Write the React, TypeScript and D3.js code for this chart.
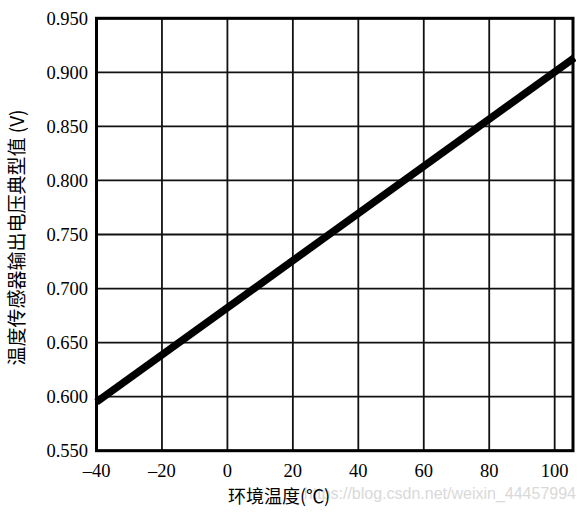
import React from "react";
import * as d3 from "d3";

const xTicks = [-40, -20, 0, 20, 40, 60, 80, 100];
const xTickLabels = ["–40", "–20", "0", "20", "40", "60", "80", "100"];
const yTicks = [0.55, 0.6, 0.65, 0.7, 0.75, 0.8, 0.85, 0.9, 0.95];
const yTickLabels = ["0.550", "0.600", "0.650", "0.700", "0.750", "0.800", "0.850", "0.900", "0.950"];
const lineTemps = [-40, 106];
const lineVolts = [0.595, 0.9135];
const xTitle = "环境温度(℃)";
const yTitle = "温度传感器输出电压典型值 (V)";
const watermark = "https://blog.csdn.net/weixin_44457994";

const W = 580;
const H = 513;
const L = 96.5, R = 573, T = 18.3, B = 450.7;

export default function App() {
  const x = d3.scaleLinear().domain([-40, 105.6]).range([L, R]);
  const y = d3.scaleLinear().domain([0.55, 0.95]).range([B, T]);
  const pts: [number, number][] = lineTemps.map((t, i) => [t, lineVolts[i]]);
  const line = d3
    .line<[number, number]>()
    .x((d) => x(d[0]))
    .y((d) => y(d[1]));
  const serif = "Liberation Serif, DejaVu Serif, serif";
  const cjk = "Noto Sans CJK SC, sans-serif";
  return (
    <svg
      width={W}
      height={H}
      style={{ position: "absolute", left: 0, top: 0, background: "#fff" }}
    >
      <rect x={0} y={0} width={W} height={H} fill="#fff" />
      <defs>
        <clipPath id="plot">
          <rect x={L - 3} y={T} width={R - L + 6} height={B - T} />
        </clipPath>
      </defs>
      {xTicks.map((t) => (
        <line key={"gx" + t} x1={x(t)} x2={x(t)} y1={T} y2={B} stroke="#111" strokeWidth={1.8} />
      ))}
      {yTicks.map((t) => (
        <line key={"gy" + t} x1={L} x2={R} y1={y(t)} y2={y(t)} stroke="#111" strokeWidth={1.8} />
      ))}
      <path d={line(pts) || ""} fill="none" stroke="#000" strokeWidth={7.5} clipPath="url(#plot)" />
      <rect x={L} y={T} width={R - L} height={B - T} fill="none" stroke="#000" strokeWidth={3} />
      {yTicks.map((t, i) => (
        <text
          key={"ly" + t}
          x={88}
          y={y(t)}
          dy="0.35em"
          textAnchor="end"
          fontFamily={serif}
          fontSize={18.5}
          fill="#000"
        >
          {yTickLabels[i]}
        </text>
      ))}
      {xTicks.map((t, i) => (
        <text
          key={"lx" + t}
          x={x(t)}
          y={477}
          textAnchor="middle"
          fontFamily={serif}
          fontSize={18.5}
          fill="#000"
        >
          {xTickLabels[i]}
        </text>
      ))}
      <text
        x={576}
        y={499}
        textAnchor="end"
        fontFamily="Liberation Sans, Arial, sans-serif"
        fontSize={16}
        fill="#d9d9d9"
      >
        {watermark}
      </text>
      <text x={228} y={503} fontFamily={cjk} fontSize={18} fill="#000">
        {xTitle}
      </text>
      <text
        transform={`translate(24, ${(T + B) / 2 + 3}) rotate(-90)`}
        textAnchor="middle"
        fontFamily={cjk}
        fontSize={19}
        fill="#000"
      >
        {yTitle}
      </text>
    </svg>
  );
}
